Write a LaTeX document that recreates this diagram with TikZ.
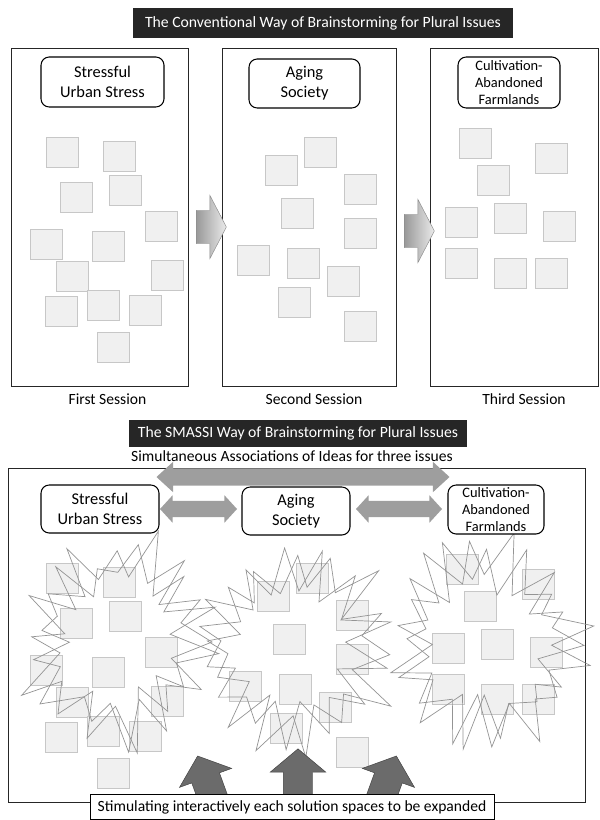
\documentclass[tikz,border=0pt]{standalone}
\usepackage{fontspec}
\setmainfont{Carlito}
\usepackage{tikz}
\usetikzlibrary{shapes.arrows, shadows, positioning}

\newcommand\firstpat{62/152,119/156,76/197,125/190,161/226,46/244,108/246,72/276,167/275,61/311,103/305,145/310,113/347}
\newcommand\secondpat{281/170,320/152,360/189,297/213,360/233,253/260,303/263,343/281,294/302,360/326}
\newcommand\thirdpat{475/143,551/158,493/180,461/222,510/218,559/226,461/263,510/273,551/273}

\begin{document}
\begin{tikzpicture}[x=0.03cm, y=-0.03cm,
  banner/.style={fill=black!85, text=white, font=\fontsize{13.4}{16}\selectfont, inner sep=0pt},
  issue/.style={draw, line width=0.9pt, rounded corners=7pt, fill=white, align=center,
    font=\fontsize{14}{17}\selectfont, inner sep=1pt},
  smallissue/.style={issue, font=\fontsize{12.3}{14.5}\selectfont},
  session/.style={draw=black!85, line width=0.8pt, inner sep=0pt},
  caption/.style={font=\fontsize{13.3}{16}\selectfont},
  sticky/.style={draw=black!22, fill=black!6, inner sep=0pt,
    minimum width=0.96cm, minimum height=0.9cm,
    drop shadow={shadow xshift=0.5pt, shadow yshift=-0.8pt, opacity=0.3}},
  flow/.style={single arrow, draw=black!45, left color=black!40, right color=black!8,
    minimum height=0.9cm, inner xsep=0pt, inner ysep=0.495cm, single arrow head extend=0.45cm,
    single arrow tip angle=125},
  link/.style={double arrow, fill=black!38, inner xsep=0pt, inner ysep=0.24cm,
    double arrow head extend=0.165cm, double arrow tip angle=95},
  push/.style={single arrow, fill=black!58, draw=black!75, inner xsep=0pt, inner ysep=0.435cm,
    minimum height=1.8cm, single arrow head extend=0.39cm, single arrow tip angle=100},
  burst/.style={draw=black!42, line width=0.6pt, line join=miter},
]
\useasboundingbox (0,0) rectangle (600,820);

% conventional way
\node[banner, minimum width=11.4cm, minimum height=0.9cm] (conv) at (323,23)
  {The Conventional Way of Brainstorming for Plural Issues};

\node[session, minimum width=5.31cm, minimum height=10.14cm] (s1) at (99.5,217) {};
\node[session, minimum width=5.22cm, minimum height=10.14cm] (s2) at (309,217) {};
\node[session, minimum width=5.04cm, minimum height=10.14cm] (s3) at (514,217) {};

\node[caption, below=3pt of s1.south, xshift=0.24cm] (l1) {First Session};
\node[caption, below=3pt of s2.south, xshift=0.15cm] (l2) {Second Session};
\node[caption, below=3pt of s3.south, xshift=0.3cm] (l3) {Third Session};

\foreach \x/\y [count=\i] in \firstpat {\node[sticky] (a\i) at (\x,\y) {};}
\foreach \x/\y [count=\i] in \secondpat {\node[sticky] (b\i) at (\x,\y) {};}
\foreach \x/\y [count=\i] in \thirdpat {\node[sticky] (c\i) at (\x,\y) {};}

\node[issue, minimum width=3.69cm, minimum height=1.5cm] (t1) at (102.5,82) {Stressful\\Urban Stress};
\node[issue, minimum width=3.33cm, minimum height=1.47cm] (t2) at (304.5,83.5) {Aging\\Society};
\node[smallissue, minimum width=3.06cm, minimum height=1.53cm] (t3) at (509,82.5) {Cultivation-\\Abandoned\\Farmlands};

\node[flow] (f1) at (207,227) {};
\node[flow] (f2) at (415,231) {};

% SMASSI way
\node[banner, minimum width=10.14cm, minimum height=0.81cm] (smassi) at (298,433)
  {The SMASSI Way of Brainstorming for Plural Issues};
\node[caption, below=0pt of smassi, xshift=-0.18cm] (simul) {Simultaneous Associations of Ideas for three issues};

\node[session, minimum width=17.31cm, minimum height=10.02cm] (panel) at (296.5,635) {};

\foreach \x/\y [count=\i] in \firstpat {\node[sticky] (la\i) at ({\x},{\y+426}) {};}
\foreach \x/\y [count=\i] in \secondpat {\node[sticky] (lb\i) at ({\x-8},{\y+426}) {};}
\foreach \x/\y [count=\i] in \thirdpat {\node[sticky] (lc\i) at ({\x-13},{\y+426}) {};}

\pgfmathsetseed{23}
\foreach \cx/\cy/\rot/\big in {116/642/0/96, 120/638/9/100, 294/648/4/96, 290/644/14/100, 486/642/2/98, 490/646/11/102}{
  \draw[burst] ({\cx+\big*cos(\rot)},{\cy+\big*sin(\rot)})
    \foreach \k [evaluate=\k as \rad using {mod(\k,2)==0 ? \big*(0.78+0.4*rnd) : 50+20*rnd},
                 evaluate=\k as \ang using {\k*12.857+\rot+8*rnd-4}] in {1,...,27}
      { -- ({\cx+\rad*cos(\ang)},{\cy+\rad*sin(\ang)}) } -- cycle;
}

\node[issue, minimum width=3.54cm, minimum height=1.44cm] (u1) at (100,509) {Stressful\\Urban Stress};
\node[issue, minimum width=3.24cm, minimum height=1.44cm] (u2) at (296,511) {Aging\\Society};
\node[smallissue, minimum width=2.88cm, minimum height=1.47cm] (u3) at (496,509.5) {Cultivation-\\Abandoned\\Farmlands};

\node[link, minimum height=8.79cm, inner ysep=0.255cm, double arrow head extend=0.195cm, double arrow tip angle=85] (all) at (303,477) {};
\node[link, minimum height=2.31cm] (k1) at (198.5,509) {};
\node[link, minimum height=2.58cm] (k2) at (399,509) {};

\node[push, rotate=110] (p1) at (210,790) {};
\node[push, rotate=90] (p2) at (298,785) {};
\node[push, rotate=70] (p3) at (384,790) {};

\node[caption, draw, line width=0.8pt, fill=white, minimum width=12.12cm, minimum height=0.75cm, inner sep=0pt] (cap) at (292,807)
  {Stimulating interactively each solution spaces to be expanded};
\end{tikzpicture}
\end{document}
